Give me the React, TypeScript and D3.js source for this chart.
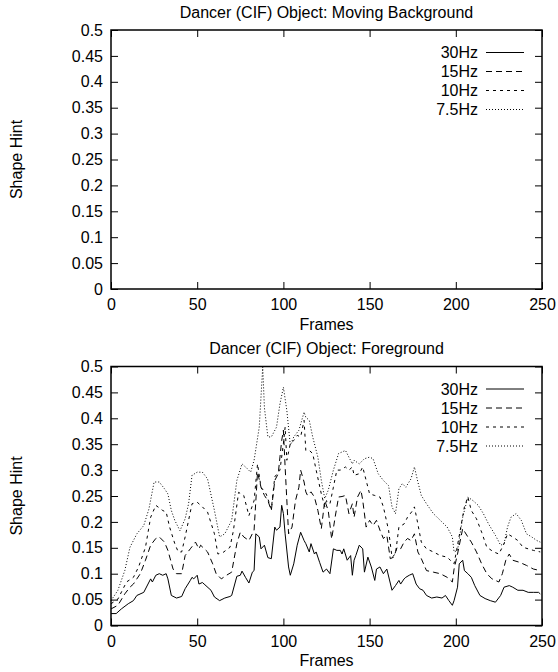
import { useEffect, useRef } from 'react'
import * as d3 from 'd3'

// axis ticks
const frameTicks = [0, 50, 100, 150, 200, 250]
const hintTicks = [0, 0.05, 0.1, 0.15, 0.2, 0.25, 0.3, 0.35, 0.4, 0.45, 0.5]

// legend
const seriesNames = ['30Hz', '15Hz', '10Hz', '7.5Hz']

// [frame, shape hint]
const hz30: [number, number][] = [
  [0, .023], [3, .023], [6, .032], [10, .042], [13, .048], [15, .058], [19, .064], [23, .09], [24, .084],
  [26, .097], [28, .1], [30, .097], [32, .1], [33, .09], [35, .058], [38, .053], [41, .056], [43, .071],
  [46, .087], [47, .093], [48, .09], [50, .097], [51, .08], [53, .083], [54, .08], [58, .068], [60, .055],
  [63, .048], [66, .053], [69, .056], [70, .058], [73, .095], [75, .097], [76, .105], [78, .093], [80, .082],
  [82, .103], [83, .106], [84, .177], [86, .171], [87, .148], [89, .155], [91, .131], [93, .129], [95, .19],
  [96, .184], [98, .19], [99, .232], [100, .216], [101, .177], [103, .113], [104, .097], [106, .119],
  [108, .155], [110, .18], [112, .164], [113, .158], [115, .142], [116, .158], [118, .138], [119, .142],
  [121, .122], [123, .103], [125, .109], [127, .1], [129, .148], [131, .145], [133, .145], [134, .138],
  [135, .148], [137, .126], [139, .135], [140, .097], [141, .126], [142, .135], [144, .155], [146, .148],
  [147, .103], [149, .132], [151, .113], [153, .087], [154, .109], [156, .113], [158, .1], [160, .109],
  [163, .068], [165, .077], [167, .087], [168, .08], [170, .09], [171, .093], [173, .097], [175, .1],
  [177, .08], [179, .071], [181, .068], [183, .058], [186, .053], [189, .055], [192, .053], [194, .058],
  [196, .048], [198, .039], [199, .048], [201, .074], [202, .119], [204, .126], [205, .106], [207, .1],
  [209, .093], [211, .077], [214, .058], [217, .052], [220, .048], [223, .045], [226, .058], [228, .074],
  [231, .077], [233, .074], [236, .068], [239, .068], [242, .064], [245, .064], [248, .064], [249, .061],
]

const hz15: [number, number][] = [
  [0, .032], [4, .039], [8, .061], [11, .074], [13, .08], [17, .1], [20, .126], [23, .155], [26, .168],
  [28, .171], [31, .161], [33, .145], [36, .109], [38, .1], [41, .1], [43, .135], [46, .148], [49, .161],
  [51, .148], [52, .155], [56, .142], [59, .119], [61, .1], [64, .09], [67, .097], [70, .103], [73, .158],
  [75, .18], [77, .171], [80, .164], [83, .184], [85, .296], [87, .267], [89, .251], [91, .241], [93, .222],
  [95, .28], [97, .293], [99, .357], [100, .377], [101, .306], [103, .177], [105, .19], [107, .241],
  [109, .267], [110, .3], [112, .277], [113, .258], [114, .251], [116, .258], [118, .248], [120, .222],
  [122, .187], [124, .241], [126, .222], [128, .167], [130, .209], [132, .248], [134, .249], [136, .251],
  [138, .216], [140, .235], [141, .209], [143, .248], [145, .261], [146, .242], [148, .19], [150, .203],
  [152, .193], [154, .203], [156, .184], [158, .168], [160, .174], [162, .129], [164, .132], [166, .151],
  [168, .148], [170, .161], [172, .168], [174, .164], [176, .177], [178, .142], [180, .129], [183, .106],
  [187, .103], [191, .1], [195, .093], [198, .084], [199, .109], [201, .138], [204, .187], [207, .171],
  [209, .161], [212, .142], [215, .119], [218, .1], [221, .09], [225, .084], [227, .1], [229, .126],
  [231, .138], [233, .126], [237, .122], [241, .116], [245, .109], [249, .106],
]

const hz10: [number, number][] = [
  [0, .042], [4, .051], [9, .084], [13, .093], [16, .113], [20, .151], [23, .209], [26, .232], [30, .222],
  [32, .219], [34, .19], [37, .158], [39, .142], [41, .142], [43, .171], [47, .235], [50, .238], [53, .229],
  [56, .219], [60, .177], [62, .138], [65, .141], [69, .151], [71, .183], [74, .257], [77, .251], [80, .212],
  [83, .241], [85, .312], [87, .267], [90, .254], [93, .225], [95, .287], [98, .3], [100, .351], [101, .383],
  [102, .319], [104, .351], [106, .357], [108, .367], [110, .364], [112, .396], [113, .338], [115, .338],
  [117, .332], [119, .3], [122, .254], [124, .229], [125, .241], [127, .235], [129, .267], [131, .3],
  [133, .3], [136, .306], [138, .3], [140, .306], [141, .29], [144, .293], [146, .306], [148, .28],
  [150, .254], [153, .251], [156, .248], [158, .229], [161, .184], [163, .132], [165, .138], [167, .19],
  [170, .196], [172, .209], [175, .222], [176, .229], [178, .196], [180, .161], [183, .148], [187, .142],
  [191, .135], [195, .132], [198, .122], [199, .119], [201, .155], [205, .229], [207, .248], [209, .222],
  [212, .206], [215, .18], [218, .151], [222, .142], [225, .138], [228, .158], [230, .177], [233, .171],
  [236, .164], [239, .151], [242, .148], [245, .145], [249, .142],
]

const hz75: [number, number][] = [
  [0, .048], [4, .068], [8, .106], [11, .151], [15, .177], [19, .193], [22, .225], [25, .277], [28, .277],
  [31, .264], [33, .254], [35, .222], [37, .203], [40, .183], [43, .206], [45, .235], [47, .29], [50, .296],
  [53, .296], [56, .283], [60, .222], [63, .171], [66, .177], [70, .203], [73, .28], [76, .312], [79, .303],
  [81, .296], [83, .319], [86, .383], [88, .499], [89, .42], [91, .364], [93, .364], [96, .383], [98, .428],
  [100, .46], [102, .415], [104, .348], [106, .364], [109, .377], [112, .412], [113, .402], [115, .396],
  [117, .364], [120, .325], [122, .28], [124, .245], [126, .261], [129, .3], [132, .332], [136, .338],
  [138, .325], [140, .312], [141, .319], [144, .312], [147, .322], [150, .325], [152, .322], [155, .293],
  [158, .28], [161, .27], [163, .229], [165, .216], [167, .264], [169, .274], [171, .267], [174, .283],
  [176, .306], [178, .277], [180, .251], [183, .235], [187, .216], [191, .203], [195, .19], [198, .171],
  [199, .142], [201, .145], [204, .209], [207, .248], [210, .241], [213, .232], [216, .216], [219, .196],
  [223, .174], [226, .155], [228, .158], [230, .19], [232, .209], [235, .216], [238, .203], [241, .177],
  [244, .171], [247, .164], [249, .161],
]

const panels = [
  { title: 'Dancer (CIF) Object: Moving Background', series: [[], [], [], []] as [number, number][][] },
  { title: 'Dancer (CIF) Object: Foreground', series: [hz30, hz15, hz10, hz75] },
]

const FONT = "'Liberation Sans', Arial, Helvetica, sans-serif"
const FS = 16
const dashFor = ['none', '6,4', '3,4', '1,2']

function App() {
  const ref = useRef<SVGSVGElement>(null)

  useEffect(() => {
    if (!ref.current) return
    const root = d3.select(ref.current)
    root.selectAll('*').remove()

    const left = 111
    const right = 542
    const plotH = 259
    const tops = [30, 366.5]

    const x = d3.scaleLinear().domain([0, 250]).range([left, right])

    panels.forEach((panel, pi) => {
      const top = tops[pi]
      const bottom = top + plotH
      const y = d3.scaleLinear().domain([0, 0.5]).range([bottom, top])
      const g = root.append('g').attr('font-family', FONT)

      // title
      g.append('text')
        .attr('x', (left + right) / 2)
        .attr('y', top - 18)
        .attr('dy', '0.35em')
        .attr('text-anchor', 'middle')
        .attr('font-size', FS)
        .text(panel.title)

      // axes (gnuplot style: inward ticks, mirrored)
      const yAxis = g.append('g').attr('transform', `translate(${left},0)`)
        .call(d3.axisLeft(y).tickValues(hintTicks).tickSize(-7).tickPadding(8).tickFormat(d => d3.format('~g')(d as number)))
      const yAxisR = g.append('g').attr('transform', `translate(${right},0)`)
        .call(d3.axisRight(y).tickValues(hintTicks).tickSize(-7).tickFormat(() => ''))
      const xAxis = g.append('g').attr('transform', `translate(0,${bottom})`)
        .call(d3.axisBottom(x).tickValues(frameTicks).tickSize(-7).tickPadding(10).tickFormat(d => String(d)))
      const xAxisT = g.append('g').attr('transform', `translate(0,${top})`)
        .call(d3.axisTop(x).tickValues(frameTicks).tickSize(-7).tickFormat(() => ''))
      for (const a of [yAxis, yAxisR, xAxis, xAxisT]) {
        a.select('.domain').remove()
        a.selectAll('line').attr('stroke', '#000').attr('stroke-width', 1)
        a.selectAll('text').attr('font-family', FONT).attr('font-size', FS).attr('fill', '#000')
      }

      // frame
      g.append('rect')
        .attr('x', left).attr('y', top)
        .attr('width', right - left).attr('height', plotH)
        .attr('fill', 'none').attr('stroke', '#000').attr('stroke-width', 1.5)

      // axis labels
      g.append('text')
        .attr('x', (left + right) / 2)
        .attr('y', bottom + 35)
        .attr('dy', '0.35em')
        .attr('text-anchor', 'middle')
        .attr('font-size', FS)
        .text('Frames')
      g.append('text')
        .attr('transform', `translate(16,${(top + bottom) / 2}) rotate(-90)`)
        .attr('dy', '0.35em')
        .attr('text-anchor', 'middle')
        .attr('font-size', FS)
        .text('Shape Hint')

      // data lines
      const line = d3.line<[number, number]>().x(d => x(d[0])).y(d => y(d[1]))
      panel.series.forEach((data, si) => {
        if (!data.length) return
        g.append('path')
          .attr('d', line(data))
          .attr('fill', 'none')
          .attr('stroke', '#000')
          .attr('stroke-width', 1)
          .attr('stroke-dasharray', dashFor[si])
      })

      // legend
      seriesNames.forEach((name, si) => {
        const ly = top + 22.5 + si * 19
        g.append('text')
          .attr('x', 478)
          .attr('y', ly)
          .attr('dy', '0.35em')
          .attr('text-anchor', 'end')
          .attr('font-size', FS)
          .text(name)
        g.append('line')
          .attr('x1', 486).attr('x2', 524)
          .attr('y1', ly).attr('y2', ly)
          .attr('stroke', '#000')
          .attr('stroke-width', 1)
          .attr('stroke-dasharray', dashFor[si])
      })
    })
  }, [])

  return (
    <>
      <style>{`body { margin: 0; background: #fff; }`}</style>
      <svg ref={ref} width={558} height={672} style={{ display: 'block', background: '#fff' }} />
    </>
  )
}

export default App
